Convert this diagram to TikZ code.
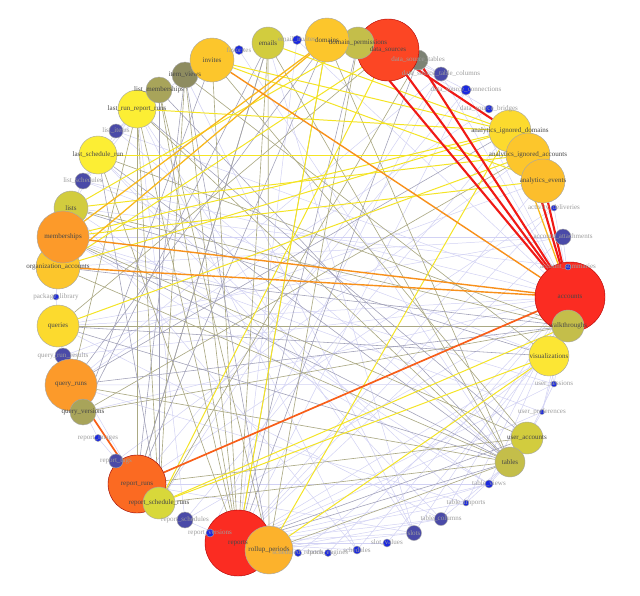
\documentclass[tikz,border=0pt]{standalone}
\usepackage{fontspec}
\setmainfont{Liberation Serif}
\usepackage{tikz}
\usetikzlibrary{backgrounds}

% node colours
\definecolor{cRed}{HTML}{FB2C22}
\definecolor{cRedO}{HTML}{FC4624}
\definecolor{cOrgR}{HTML}{FB6A22}
\definecolor{cOrg}{HTML}{FC9A2A}
\definecolor{cOrgL}{HTML}{FCB22C}
\definecolor{cGold}{HTML}{FCC62C}
\definecolor{cGoldD}{HTML}{FCBE2C}
\definecolor{cYel}{HTML}{FCDA2E}
\definecolor{cYelL}{HTML}{FCE634}
\definecolor{cYelB}{HTML}{FCEE34}
\definecolor{cYelO}{HTML}{D8D83A}
\definecolor{cOlvY}{HTML}{D2CC3E}
\definecolor{cOlv}{HTML}{C4BE4A}
\definecolor{cOlvD}{HTML}{A8A45A}
\definecolor{cOlvG}{HTML}{8E8C60}
\definecolor{cGray}{HTML}{7C8274}
\definecolor{cDBlue}{HTML}{4A4AA8}
\definecolor{cBlue}{HTML}{1A28E0}
% edge colours
\definecolor{eLav}{HTML}{D2D2F4}
\definecolor{eOlv}{HTML}{ABA984}
\definecolor{eSlate}{HTML}{A0A0B8}
\definecolor{eYel}{HTML}{F4E424}
\definecolor{eGold}{HTML}{F8B81C}
\definecolor{eOrg}{HTML}{F8901A}
\definecolor{eRedO}{HTML}{F85E18}
\definecolor{eRed}{HTML}{F01A16}

\begin{document}
\begin{tikzpicture}[x=0.025cm, y=-0.025cm,
  nd/.style={circle, draw=black!35, line width=0.3pt, inner sep=0pt},
  rad/.style={minimum size=#1*0.05cm},
  lbl/.style={font=\fontsize{5}{6}\selectfont, text=black!72, inner sep=0pt},
  slbl/.style={lbl, text=black!38},
  le/.style={draw=eLav, line width=0.35pt},
  ge/.style={draw=eOlv, line width=0.45pt},
  se/.style={draw=eSlate, line width=0.4pt},
  ye/.style={draw=eYel, line width=0.7pt},
  oe/.style={draw=eOrg, line width=1pt},
  gde/.style={draw=eGold, line width=0.9pt},
  roe/.style={draw=eRedO, line width=1.2pt},
  re/.style={draw=eRed, line width=1.5pt}]
\useasboundingbox (0,0) rectangle (640,595);

% nodes, clockwise from the top
\node[nd, rad=16, fill=cOlvY] (emails) at (268,43) {};
\node[nd, rad=4.5, fill=cBlue] (emlinv) at (297,40) {};
\node[nd, rad=4.5, fill=cBlue] (fav) at (239,50) {};
\node[nd, rad=10, fill=cGray] (dstab) at (418,60) {};
\node[nd, rad=31, fill=cRedO, draw=red!70!black] (dsrc) at (388,50) {};
\node[nd, rad=16, fill=cOlv] (dperm) at (358,43) {};
\node[nd, rad=22, fill=cGold] (domains) at (327,40) {};
\node[nd, rad=7, fill=cDBlue] (dscol) at (441,74) {};
\node[nd, rad=5, fill=cBlue] (dscon) at (466,90) {};
\node[nd, rad=4, fill=cBlue] (dsbri) at (489,109) {};
\node[nd, rad=21, fill=cYel] (aid) at (510,131) {};
\node[nd, rad=22, fill=cGold] (aia) at (528,155) {};
\node[nd, rad=22, fill=cGoldD] (aev) at (543,181) {};
\node[nd, rad=3, fill=cBlue] (adel) at (554,208) {};
\node[nd, rad=8, fill=cDBlue] (aatt) at (563,237) {};
\node[nd, rad=35, fill=cRed, draw=red!70!black] (accounts) at (570,297) {};
\node[nd, rad=3, fill=cBlue] (asm) at (568,267) {};
\node[nd, rad=20, fill=cYelL] (vis) at (549,356) {};
\node[nd, rad=16, fill=cOlv] (walk) at (568,326) {};
\node[nd, rad=3, fill=cBlue] (usess) at (554,384) {};
\node[nd, rad=2.5, fill=cBlue] (upref) at (542,412) {};
\node[nd, rad=16, fill=cOlvY] (uacc) at (527,438) {};
\node[nd, rad=15, fill=cOlv] (tables) at (510,462) {};
\node[nd, rad=4, fill=cBlue] (tview) at (489,484) {};
\node[nd, rad=3, fill=cBlue] (timp) at (466,503) {};
\node[nd, rad=6.5, fill=cDBlue] (tcol) at (441,519) {};
\node[nd, rad=7.5, fill=cDBlue] (slots) at (414,533) {};
\node[nd, rad=4, fill=cBlue] (slotv) at (387,543) {};
\node[nd, rad=4, fill=cBlue] (sched) at (357,550) {};
\node[nd, rad=3.5, fill=cBlue] (batch) at (328,553) {};
\node[nd, rad=3.5, fill=cBlue] (schrep) at (298,553) {};
\node[nd, rad=33, fill=cRed, draw=red!70!black] (reports) at (238,543) {};
\node[nd, rad=24, fill=cOrgL] (rollup) at (269,550) {};
\node[nd, rad=4, fill=cBlue] (rver) at (210,533) {};
\node[nd, rad=8, fill=cDBlue] (rsch) at (185,520) {};
\node[nd, rad=29, fill=cOrgR, draw=red!60!black] (rruns) at (137,484) {};
\node[nd, rad=16, fill=cYelO] (rsr) at (159,503) {};
\node[nd, rad=7, fill=cDBlue] (rtag) at (116,461) {};
\node[nd, rad=3.5, fill=cBlue] (rimg) at (98,438) {};
\node[nd, rad=8, fill=cDBlue] (qrr) at (63,356) {};
\node[nd, rad=26, fill=cOrg] (qruns) at (71,385) {};
\node[nd, rad=13, fill=cOlvD] (qver) at (83,412) {};
\node[nd, rad=21, fill=cYel] (queries) at (58,326) {};
\node[nd, rad=3, fill=cBlue] (pkg) at (56,297) {};
\node[nd, rad=22, fill=cGold] (orgacc) at (58,267) {};
\node[nd, rad=17, fill=cOlvY] (lists) at (71,208) {};
\node[nd, rad=26, fill=cOrg] (memb) at (63,237) {};
\node[nd, rad=8, fill=cDBlue] (lsch) at (83,181) {};
\node[nd, rad=19, fill=cYelB] (lsr) at (98,155) {};
\node[nd, rad=7, fill=cDBlue] (litm) at (116,131) {};
\node[nd, rad=19, fill=cYelB] (lrr) at (137,109) {};
\node[nd, rad=13, fill=cOlvD] (lmem) at (159,90) {};
\node[nd, rad=13, fill=cOlvG] (iview) at (185,75) {};
\node[nd, rad=22, fill=cGold] (invites) at (212,60) {};

% labels on top of all circles
\foreach \n/\t in {emails/emails, domains/domains, dperm/domain\_permissions,
  dsrc/data\_sources, aid/analytics\_ignored\_domains,
  aia/analytics\_ignored\_accounts, aev/analytics\_events, accounts/accounts,
  walk/walkthroughs, vis/visualizations, uacc/user\_accounts, tables/tables,
  rollup/rollup\_periods, reports/reports, rsr/report\_schedule\_runs,
  rruns/report\_runs, qver/query\_versions, qruns/query\_runs, queries/queries,
  orgacc/organization\_accounts, memb/memberships, lists/lists,
  lsr/last\_schedule\_run, lrr/last\_run\_report\_runs, lmem/list\_memberships,
  iview/item\_views, invites/invites}
  \node[lbl] (\n-t) at (\n) {\t};
\foreach \n/\t in {emlinv/email\_invites, fav/favorites, dstab/data\_source\_tables,
  dscol/data\_source\_table\_columns, dscon/data\_source\_connections,
  dsbri/data\_source\_bridges, adel/activity\_deliveries,
  aatt/account\_attachments, asm/account\_summaries, usess/user\_sessions,
  upref/user\_preferences, tview/table\_views, timp/table\_imports,
  tcol/table\_columns, slots/slots, slotv/slot\_values, sched/schedules,
  batch/batch\_engines, schrep/scheduled\_reports, rver/report\_versions,
  rsch/report\_schedules, rtag/report\_tags, rimg/report\_images,
  qrr/query\_run\_results, pkg/package\_library, lsch/list\_schedules,
  litm/list\_items}
  \node[slbl] (\n-t) at (\n) {\t};

\begin{pgfonlayer}{background}
\fill[white] (0,0) rectangle (640,595);
% faint links
\foreach \a/\b in {accounts/slots, accounts/tcol, accounts/tview, accounts/sched,
  accounts/usess, accounts/upref, accounts/aatt, accounts/adel, accounts/asm,
  accounts/dscon, accounts/dscol, accounts/rsch, accounts/qrr, accounts/lsch,
  accounts/litm, accounts/emlinv, accounts/batch, accounts/timp,
  reports/slots, reports/tcol, reports/slotv, reports/sched, reports/batch,
  reports/rver, reports/rsch, reports/tview, reports/timp, reports/usess,
  reports/upref, reports/aatt, reports/adel, rollup/slots, rollup/tcol,
  rollup/schrep, rollup/tview, rruns/rtag, rruns/rimg, rruns/qrr, rruns/tview,
  rruns/slots, rruns/dscon, qruns/qrr, qruns/rimg, qruns/dscol, qruns/usess,
  qruns/timp, queries/qrr, queries/pkg, queries/tcol, lrr/litm, lrr/lsch,
  lsr/lsch, lists/lsch, lists/litm, memb/pkg, orgacc/pkg, dsrc/dscol,
  dsrc/dscon, dsrc/dsbri, dstab/dscol, tables/tcol, tables/tview,
  tables/timp, uacc/upref, uacc/usess, vis/usess, walk/upref, invites/fav,
  emails/emlinv, domains/emlinv, iview/litm, lmem/lsch, slots/lrr,
  slots/iview, tview/memb, sched/lists, aatt/orgacc, aatt/memb, upref/memb,
  schrep/vis, slotv/walk, rver/dscol, rsch/lrr, accounts/queries,
  accounts/qver, reports/aev, reports/vis, tcol/lsr, sched/lrr, tview/lists,
  rsch/aid, rtag/aia, qrr/aev, lsch/vis, litm/tables, dscol/rsr, dscon/reports,
  dsbri/qruns, adel/rruns, aatt/queries, asm/lists, usess/memb, timp/lsr,
  slots/emails, fav/tables, emlinv/reports}
  \draw[le] (\a) -- (\b);
% grey links
\foreach \a/\b in {reports/emails, reports/invites, reports/lrr, reports/domains,
  reports/iview, reports/lmem, reports/lsr, rollup/emails, rollup/dperm,
  rollup/tables, rruns/lrr, rruns/emails, rruns/uacc, rsr/lrr, rsr/iview,
  rsr/tables, qruns/lrr, qruns/tables, queries/walk, orgacc/tables,
  memb/uacc, lists/walk, lrr/tables, lsr/walk, iview/vis, emails/tables,
  invites/uacc, domains/tables, dstab/rsr, qver/walk, aia/qver,
  dsrc/queries, lmem/rollup}
  \draw[ge] (\a) -- (\b);
\foreach \a/\b in {reports/dperm, reports/tables, reports/uacc, rollup/iview,
  rruns/domains, rruns/iview, rsr/lsr, rsr/lmem, qruns/walk, queries/tables,
  queries/vis, orgacc/walk, memb/tables, lists/vis, lsr/tables, lmem/tables,
  emails/qver, invites/qver, dstab/reports, aid/qruns, domains/qruns,
  emails/rruns, lrr/uacc}
  \draw[se] (\a) -- (\b);
% yellow links
\foreach \a/\b in {aid/memb, aid/orgacc, aia/lists, aia/lsr, aev/memb,
  aid/invites, emails/aid, vis/rsr, walk/rsr, vis/rollup, aid/rollup,
  dsrc/rsr, domains/reports, invites/aev, dsrc/orgacc, lrr/aid, dperm/lists,
  aia/queries}
  \draw[ye] (\a) -- (\b);
% strong links
\foreach \a/\b in {memb/domains, domains/orgacc, aid/accounts}
  \draw[gde] (\a) -- (\b);
\foreach \a/\b in {invites/accounts, orgacc/accounts, memb/accounts}
  \draw[oe] (\a) -- (\b);
\foreach \a/\b in {rruns/accounts, qruns/rruns}
  \draw[roe] (\a) -- (\b);
\foreach \a/\b in {dperm/accounts, dsrc/accounts, dstab/accounts, dsrc/aid,
  aev/accounts, aia/accounts}
  \draw[re] (\a) -- (\b);
\end{pgfonlayer}
\end{tikzpicture}
\end{document}
